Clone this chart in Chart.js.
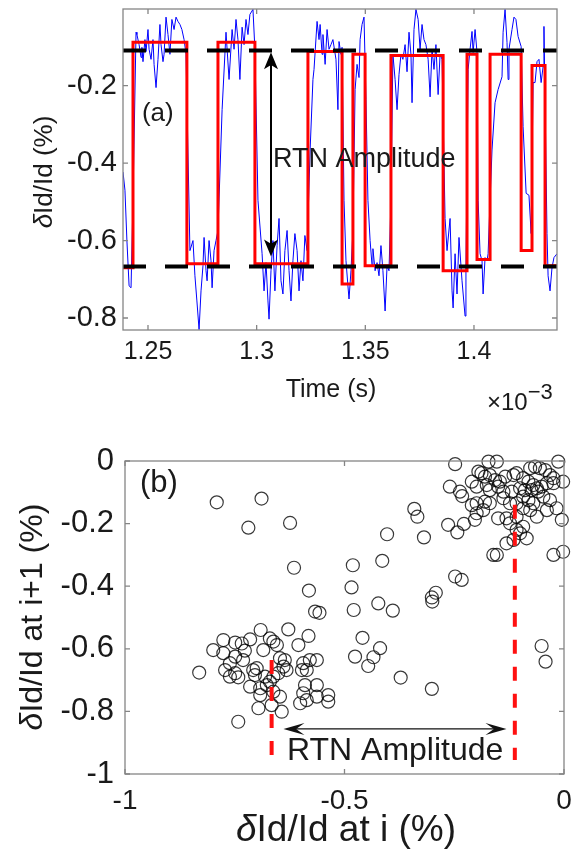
<!DOCTYPE html>
<html>
<head>
<meta charset="utf-8">
<script src="https://cdn.jsdelivr.net/npm/chart.js@4.4.0/dist/chart.umd.min.js"></script>
<style>
  body { margin: 0; background: #fff; }
  #top { position: absolute; left: 0; top: 0; width: 577px; height: 430px; }
  #bottom { position: absolute; left: 0; top: 430px; width: 577px; height: 427px; }
</style>
</head>
<body>
<div id="top"><canvas id="rtnTrace"></canvas></div>
<div id="bottom"><canvas id="lagPlot"></canvas></div>
<script>
// ---- panel (a): measured trace (time in ms, value in %)
const blueTime = [
  1.2385, 1.2394, 1.2403, 1.2413, 1.2422, 1.2431, 1.2445, 1.2449, 1.2459, 1.2468, 1.2472, 1.2477,
  1.2486, 1.2491, 1.2500, 1.2505, 1.2514, 1.2523, 1.2528, 1.2537, 1.2546, 1.2555, 1.2560, 1.2569,
  1.2574, 1.2583, 1.2592, 1.2601, 1.2610, 1.2620, 1.2629, 1.2638, 1.2647, 1.2656, 1.2666, 1.2675,
  1.2693, 1.2707, 1.2716, 1.2725, 1.2735, 1.2744, 1.2753, 1.2758, 1.2767, 1.2772, 1.2781, 1.2790,
  1.2795, 1.2804, 1.2813, 1.2822, 1.2841, 1.2859, 1.2873, 1.2887, 1.2896, 1.2905, 1.2914, 1.2923,
  1.2933, 1.2942, 1.2951, 1.2960, 1.2969, 1.2983, 1.2992, 1.3006, 1.3025, 1.3034, 1.3043, 1.3052,
  1.3057, 1.3066, 1.3075, 1.3084, 1.3094, 1.3103, 1.3112, 1.3121, 1.3130, 1.3140, 1.3149, 1.3158,
  1.3167, 1.3176, 1.3186, 1.3195, 1.3204, 1.3213, 1.3222, 1.3232, 1.3246, 1.3259, 1.3264, 1.3278,
  1.3287, 1.3292, 1.3301, 1.3305, 1.3315, 1.3324, 1.3333, 1.3342, 1.3351, 1.3365, 1.3374, 1.3379,
  1.3388, 1.3393, 1.3402, 1.3411, 1.3420, 1.3425, 1.3434, 1.3443, 1.3453, 1.3462, 1.3471, 1.3476,
  1.3485, 1.3494, 1.3503, 1.3512, 1.3522, 1.3531, 1.3535, 1.3545, 1.3554, 1.3563, 1.3572, 1.3581,
  1.3591, 1.3600, 1.3609, 1.3618, 1.3627, 1.3637, 1.3646, 1.3655, 1.3664, 1.3673, 1.3683, 1.3692,
  1.3701, 1.3710, 1.3715, 1.3724, 1.3733, 1.3743, 1.3752, 1.3761, 1.3770, 1.3779, 1.3789, 1.3798,
  1.3807, 1.3816, 1.3825, 1.3835, 1.3844, 1.3853, 1.3867, 1.3876, 1.3890, 1.3899, 1.3904, 1.3913,
  1.3922, 1.3931, 1.3945, 1.3959, 1.3963, 1.3973, 1.3982, 1.3991, 1.3996, 1.4005, 1.4014, 1.4019,
  1.4028, 1.4037, 1.4042, 1.4051, 1.4060, 1.4065, 1.4074, 1.4083, 1.4097, 1.4111, 1.4129, 1.4134,
  1.4143, 1.4152, 1.4157, 1.4161, 1.4175, 1.4184, 1.4193, 1.4203, 1.4217, 1.4226, 1.4240, 1.4253,
  1.4263, 1.4272, 1.4281, 1.4290, 1.4299, 1.4309, 1.4318, 1.4322, 1.4336, 1.4341, 1.4350, 1.4359,
  1.4368, 1.4382
];
const blueVal = [
  -0.423, -0.470, -0.600, -0.717, -0.722, -0.496, -0.062, -0.068, -0.094, -0.127, -0.101, -0.138,
  -0.081, -0.112, -0.055, -0.106, -0.132, -0.081, -0.145, -0.205, -0.132, -0.042, -0.094, -0.138,
  -0.119, -0.023, -0.068, -0.119, -0.029, -0.055, -0.023, -0.034, -0.042, -0.055, -0.081, -0.119,
  -0.626, -0.600, -0.691, -0.756, -0.830, -0.730, -0.665, -0.592, -0.678, -0.704, -0.600, -0.652,
  -0.722, -0.626, -0.600, -0.574, -0.262, -0.062, -0.184, -0.055, -0.106, -0.029, -0.081, -0.184,
  -0.049, -0.094, -0.029, -0.068, -0.016, -0.003, -0.106, -0.496, -0.634, -0.730, -0.657, -0.756,
  -0.803, -0.678, -0.600, -0.730, -0.613, -0.543, -0.704, -0.738, -0.626, -0.574, -0.678, -0.756,
  -0.652, -0.582, -0.626, -0.730, -0.652, -0.704, -0.587, -0.626, -0.366, -0.184, -0.158, -0.034,
  -0.081, -0.042, -0.119, -0.068, -0.145, -0.055, -0.106, -0.094, -0.081, -0.132, -0.262, -0.086,
  -0.119, -0.101, -0.496, -0.652, -0.717, -0.751, -0.678, -0.574, -0.210, -0.145, -0.179, -0.081,
  -0.042, -0.023, -0.236, -0.496, -0.600, -0.665, -0.621, -0.678, -0.657, -0.691, -0.613, -0.678,
  -0.782, -0.665, -0.678, -0.496, -0.119, -0.184, -0.262, -0.171, -0.119, -0.132, -0.094, -0.164,
  -0.062, -0.119, -0.244, -0.055, -0.003, -0.029, -0.106, -0.042, -0.081, -0.094, -0.132, -0.229,
  -0.106, -0.158, -0.094, -0.223, -0.119, -0.132, -0.543, -0.626, -0.543, -0.730, -0.774, -0.634,
  -0.738, -0.592, -0.704, -0.795, -0.670, -0.158, -0.106, -0.060, -0.114, -0.055, -0.114, -0.496,
  -0.634, -0.652, -0.738, -0.644, -0.652, -0.634, -0.496, -0.366, -0.244, -0.210, -0.177, -0.062,
  -0.003, -0.088, -0.184, -0.106, -0.055, -0.023, -0.029, -0.073, -0.099, -0.306, -0.478, -0.483,
  -0.582, -0.192, -0.192, -0.138, -0.132, -0.192, -0.151, -0.047, -0.582, -0.691, -0.730, -0.670,
  -0.644, -0.634
];

// two-level fit: time where each level starts, and the level
const redTime = [1.2385, 1.2431, 1.2679, 1.2822, 1.2992, 1.3236, 1.3393, 1.3443, 1.3499,
                 1.3618, 1.3858, 1.3968, 1.4014, 1.4074, 1.4217, 1.4267, 1.4327, 1.4382];
const redLevel = [-0.670, -0.088, -0.660, -0.088, -0.660, -0.112, -0.712, -0.119, -0.665,
                  -0.122, -0.678, -0.119, -0.649, -0.119, -0.626, -0.148, -0.665, -0.665];

const highLevel = -0.109;
const lowLevel = -0.667;
const tMin = 1.2385, tMax = 1.4382;
const traceYMin = -0.831, traceYMax = -0.002;
const timeTicks = [1.25, 1.3, 1.35, 1.4];
const timeTickLabels = ['1.25', '1.3', '1.35', '1.4'];
const traceYTicks = [-0.8, -0.6, -0.4, -0.2];
const traceYTickLabels = ['-0.8', '-0.6', '-0.4', '-0.2'];

// ---- panel (b): value at i vs value at i+1 (%)
const lagX = [
  -0.248, -0.172, -0.153, -0.013, -0.077, -0.066, -0.055, -0.043, -0.032, -0.024, -0.195, -0.188,
  -0.180, -0.169, -0.157, -0.146, -0.134, -0.115, -0.108, -0.093, -0.081, -0.070, -0.062, -0.051,
  -0.039, -0.024, -0.002, -0.260, -0.237, -0.232, -0.210, -0.199, -0.176, -0.169, -0.150, -0.138,
  -0.119, -0.100, -0.089, -0.074, -0.059, -0.047, -0.032, -0.017, -0.210, -0.199, -0.180, -0.169,
  -0.184, -0.199, -0.203, -0.138, -0.123, -0.108, -0.093, -0.077, -0.062, -0.108, -0.131, -0.150,
  -0.123, -0.108, -0.093, -0.100, -0.085, -0.131, -0.115, -0.005, -0.024, -0.002, -0.161, -0.153,
  -0.264, -0.243, -0.228, -0.248, -0.233, -0.093, -0.081, -0.070, -0.039,
  -0.791, -0.689, -0.719, -0.624, -0.615, -0.481, -0.414, -0.403, -0.319, -0.341, -0.334,
  -0.484, -0.581, -0.567, -0.557, -0.479, -0.423, -0.390, -0.301, -0.300, -0.292, -0.051, -0.042,
  -0.459, -0.419, -0.476, -0.434, -0.446, -0.372, -0.301, -0.742, -0.831,
  -0.799, -0.776, -0.749, -0.734, -0.715, -0.691, -0.670, -0.662, -0.654, -0.628, -0.605, -0.582,
  -0.776, -0.727, -0.761, -0.772, -0.749, -0.742, -0.708, -0.700, -0.685, -0.647, -0.636, -0.632,
  -0.639, -0.651, -0.594, -0.579, -0.586, -0.597, -0.715, -0.692, -0.677, -0.670, -0.662, -0.647,
  -0.692, -0.696, -0.666, -0.643, -0.590, -0.563, -0.594, -0.586, -0.601, -0.563, -0.537, -0.537,
  -0.749, -0.731, -0.704, -0.681, -0.662, -0.563, -0.761
];
const lagY = [
  -0.010, -0.002, -0.002, -0.002, -0.023, -0.018, -0.023, -0.029, -0.045, -0.055, -0.034, -0.039,
  -0.050, -0.045, -0.061, -0.066, -0.050, -0.045, -0.039, -0.055, -0.066, -0.077, -0.087, -0.082,
  -0.071, -0.071, -0.066, -0.082, -0.098, -0.112, -0.066, -0.082, -0.077, -0.093, -0.082, -0.098,
  -0.098, -0.087, -0.093, -0.093, -0.098, -0.114, -0.125, -0.151, -0.141, -0.135, -0.130, -0.135,
  -0.157, -0.167, -0.188, -0.119, -0.135, -0.135, -0.151, -0.157, -0.178, -0.178, -0.183, -0.183,
  -0.199, -0.220, -0.210, -0.231, -0.247, -0.263, -0.252, -0.188, -0.300, -0.290, -0.300, -0.300,
  -0.204, -0.228, -0.201, -0.369, -0.380, -0.114, -0.125, -0.135, -0.157,
  -0.132, -0.120, -0.213, -0.198, -0.341, -0.333, -0.319, -0.234, -0.244, -0.153, -0.178,
  -0.404, -0.414, -0.481, -0.485, -0.476, -0.455, -0.478, -0.436, -0.449, -0.421, -0.591, -0.641,
  -0.565, -0.598, -0.625, -0.627, -0.655, -0.692, -0.728, -0.833, -0.676,
  -0.604, -0.572, -0.580, -0.583, -0.570, -0.540, -0.567, -0.577, -0.588, -0.538, -0.588, -0.559,
  -0.614, -0.606, -0.646, -0.668, -0.678, -0.691, -0.668, -0.662, -0.604, -0.630, -0.636, -0.668,
  -0.657, -0.678, -0.646, -0.636, -0.668, -0.668, -0.721, -0.726, -0.716, -0.705, -0.737, -0.753,
  -0.748, -0.790, -0.780, -0.801, -0.716, -0.716, -0.742, -0.764, -0.774, -0.753, -0.748, -0.769,
  -0.625, -0.636, -0.684, -0.689, -0.689, -0.636, -0.689
];

// the two levels marked in (b)
const markLowX = -0.666, markLowTop = -0.636;
const markHighX = -0.112, markHighTop = -0.14;
const markBottom = -0.955;
const lagTicksX = [-1, -0.5, 0];
const lagTickLabelsX = ['-1', '-0.5', '0'];
const lagTicksY = [-1, -0.8, -0.6, -0.4, -0.2, 0];
const lagTickLabelsY = ['-1', '-0.8', '-0.6', '-0.4', '-0.2', '0'];

const FONT = '"Liberation Sans", Arial, Helvetica, sans-serif';
const TXT = '#1a1a1a';

// draw a string made of parts (italic / smaller / raised)
function richText(ctx, parts, x, y, size, align, rotate) {
  ctx.save();
  ctx.translate(x, y);
  if (rotate) ctx.rotate(rotate);
  ctx.fillStyle = TXT;
  ctx.textBaseline = 'alphabetic';
  const fontOf = p => (p.italic ? 'italic ' : '') + Math.round(size * (p.scale || 1)) + 'px ' + FONT;
  let w = 0;
  parts.forEach(p => { ctx.font = fontOf(p); w += ctx.measureText(p.t).width; });
  let cx = align === 'center' ? -w / 2 : 0;
  parts.forEach(p => {
    ctx.font = fontOf(p);
    ctx.fillText(p.t, cx, (p.dy || 0));
    cx += ctx.measureText(p.t).width;
  });
  ctx.restore();
}

function arrowHead(ctx, tx, ty, dx, dy, len, half, notch) {
  // (dx,dy) unit vector pointing toward the tip
  const bx = tx - dx * len, by = ty - dy * len;
  ctx.beginPath();
  ctx.moveTo(tx, ty);
  ctx.lineTo(bx - dy * half, by + dx * half);
  ctx.lineTo(tx - dx * len * notch, ty - dy * len * notch);
  ctx.lineTo(bx + dy * half, by - dx * half);
  ctx.closePath();
  ctx.fill();
}

// matlab style box with inward ticks
const matlabBox = {
  id: 'matlabBox',
  afterDatasetsDraw(chart) {
    const { ctx, chartArea: a, scales: { x, y } } = chart;
    ctx.save();
    ctx.strokeStyle = '#858585';
    ctx.lineWidth = 1.3;
    ctx.strokeRect(a.left, a.top, a.right - a.left, a.bottom - a.top);
    ctx.beginPath();
    x.ticks.forEach(t => {
      const px = x.getPixelForValue(t.value);
      ctx.moveTo(px, a.bottom); ctx.lineTo(px, a.bottom - 5);
      ctx.moveTo(px, a.top); ctx.lineTo(px, a.top + 5);
    });
    y.ticks.forEach(t => {
      const py = y.getPixelForValue(t.value);
      ctx.moveTo(a.left, py); ctx.lineTo(a.left + 5, py);
      ctx.moveTo(a.right, py); ctx.lineTo(a.right - 5, py);
    });
    ctx.stroke();
    ctx.restore();
  }
};

const notesA = {
  id: 'notesA',
  afterDraw(chart) {
    const { ctx, scales: { x, y } } = chart;
    // double arrow for the amplitude
    const ax = x.getPixelForValue(1.3066);
    const y1 = y.getPixelForValue(-0.114), y2 = y.getPixelForValue(-0.641);
    ctx.save();
    ctx.strokeStyle = '#000'; ctx.fillStyle = '#000'; ctx.lineWidth = 2;
    ctx.beginPath(); ctx.moveTo(ax, y1 + 10); ctx.lineTo(ax, y2 - 10); ctx.stroke();
    arrowHead(ctx, ax, y1, 0, -1, 17, 7, 0.75);
    arrowHead(ctx, ax, y2, 0, 1, 17, 7, 0.75);
    ctx.restore();
    richText(ctx, [{ t: 'RTN Amplitude' }], x.getPixelForValue(1.3075), y.getPixelForValue(-0.41), 27, 'left');
    richText(ctx, [{ t: '(a)' }], x.getPixelForValue(1.2472), y.getPixelForValue(-0.291), 26, 'left');
    // axis titles
    richText(ctx, [{ t: 'Time (s)' }], 331, 397, 25, 'center');
    richText(ctx, [{ t: '×10' }, { t: '−3', scale: 0.9, dy: -11 }], 487, 410, 24, 'left');
    richText(ctx, [{ t: 'δ', italic: true }, { t: 'Id/Id (%)' }], 52, 172, 26, 'center', -Math.PI / 2);
  }
};

const notesB = {
  id: 'notesB',
  afterDraw(chart) {
    const { ctx, scales: { x, y } } = chart;
    const ay = y.getPixelForValue(-0.856);
    const x1 = x.getPixelForValue(-0.639), x2 = x.getPixelForValue(-0.131);
    ctx.save();
    ctx.strokeStyle = '#111'; ctx.fillStyle = '#111'; ctx.lineWidth = 1.2;
    ctx.beginPath(); ctx.moveTo(x1 + 10, ay); ctx.lineTo(x2 - 10, ay); ctx.stroke();
    arrowHead(ctx, x1, ay, -1, 0, 21, 6, 0.6);
    arrowHead(ctx, x2, ay, 1, 0, 21, 6, 0.6);
    ctx.restore();
    richText(ctx, [{ t: 'RTN Amplitude' }], x.getPixelForValue(-0.631), y.getPixelForValue(-0.955), 32, 'left');
    richText(ctx, [{ t: '(b)' }], x.getPixelForValue(-0.966), y.getPixelForValue(-0.099), 31, 'left');
    richText(ctx, [{ t: 'δ', italic: true }, { t: 'Id/Id at i (%)' }], 346, 411, 37, 'center');
    richText(ctx, [{ t: 'δ', italic: true }, { t: 'Id/Id at i+1 (%)' }], 42, 187, 32, 'center', -Math.PI / 2);
  }
};

function tickAxis(ticks, labels, size, padding, extra) {
  return Object.assign({
    type: 'linear',
    afterBuildTicks: s => { s.ticks = ticks.map(v => ({ value: v })); },
    ticks: {
      autoSkip: false, maxRotation: 0, padding,
      color: TXT, font: { family: FONT, size },
      callback: (v, i) => labels[i]
    },
    grid: { display: false, drawTicks: false },
    border: { display: false }
  }, extra);
}

// fixed axis box, no extra room for overhanging labels
function fixBox(w, h) {
  return s => {
    if (w) s.width = w;
    if (h) s.height = h;
    s.paddingTop = s.paddingBottom = s.paddingLeft = s.paddingRight = 0;
  };
}

new Chart(document.getElementById('rtnTrace'), {
  type: 'line',
  data: {
    datasets: [
      {
        data: [{ x: tMin, y: highLevel }, { x: tMax, y: highLevel }],
        borderColor: '#000', borderWidth: 4, borderDash: [23, 19], pointRadius: 0
      },
      {
        data: [{ x: tMin, y: lowLevel }, { x: tMax, y: lowLevel }],
        borderColor: '#000', borderWidth: 4, borderDash: [23, 19], pointRadius: 0
      },
      {
        data: redTime.map((t, i) => ({ x: t, y: redLevel[i] })),
        borderColor: '#ff0000', borderWidth: 3, stepped: true, pointRadius: 0
      },
      {
        data: blueTime.map((t, i) => ({ x: t, y: blueVal[i] })),
        borderColor: '#0000ff', borderWidth: 1, tension: 0, pointRadius: 0
      }
    ]
  },
  options: {
    responsive: true, maintainAspectRatio: false, animation: false,
    layout: { padding: { top: 9, right: 20, left: 0, bottom: 0 } },
    plugins: { legend: { display: false }, tooltip: { enabled: false } },
    scales: {
      x: tickAxis(timeTicks, timeTickLabels, 25, 7, { min: tMin, max: tMax, afterFit: fixBox(0, 100) }),
      y: tickAxis(traceYTicks, traceYTickLabels, 29, 6, { min: traceYMin, max: traceYMax, afterFit: fixBox(123, 0) })
    }
  },
  plugins: [matlabBox, notesA]
});

new Chart(document.getElementById('lagPlot'), {
  type: 'scatter',
  data: {
    datasets: [
      {
        type: 'line',
        data: [{ x: markLowX, y: markLowTop }, { x: markLowX, y: markBottom }],
        borderColor: '#ff1010', borderWidth: 4, borderDash: [14, 13], pointRadius: 0
      },
      {
        type: 'line',
        data: [{ x: markHighX, y: markHighTop }, { x: markHighX, y: markBottom }],
        borderColor: '#ff1010', borderWidth: 4, borderDash: [14, 13], pointRadius: 0
      },
      {
        data: lagX.map((v, i) => ({ x: v, y: lagY[i] })),
        pointStyle: 'circle', pointRadius: 6.5,
        borderColor: 'rgba(0,0,0,0.78)', borderWidth: 1.2,
        backgroundColor: 'rgba(0,0,0,0)', clip: false
      }
    ]
  },
  options: {
    responsive: true, maintainAspectRatio: false, animation: false,
    layout: { padding: { top: 31, right: 13, left: 0, bottom: 0 } },
    plugins: { legend: { display: false }, tooltip: { enabled: false } },
    scales: {
      x: tickAxis(lagTicksX, lagTickLabelsX, 28, 10, { min: -1, max: 0, afterFit: fixBox(0, 83) }),
      y: tickAxis(lagTicksY, lagTickLabelsY, 31, 11, { min: -1, max: 0, afterFit: fixBox(125, 0) })
    }
  },
  plugins: [matlabBox, notesB]
});
</script>
</body>
</html>
